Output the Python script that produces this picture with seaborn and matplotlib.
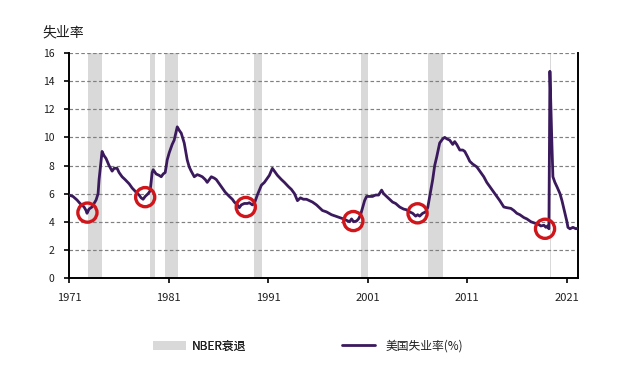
import matplotlib
matplotlib.use("Agg")
import matplotlib.pyplot as plt
import seaborn as sns
import pandas as pd
from matplotlib.patches import Patch
from matplotlib.lines import Line2D

# ---- data ----
years = [1971.00, 1971.40, 1971.80, 1972.11, 1972.51, 1972.71, 1972.81, 1973.01, 1973.31, 1973.72,
         1973.92, 1974.02, 1974.17, 1974.32, 1974.52, 1974.72, 1975.02, 1975.33, 1975.53, 1975.83,
         1976.03, 1976.33, 1976.63, 1977.04, 1977.34, 1977.74, 1978.04, 1978.24, 1978.44, 1978.65,
         1978.95, 1979.15, 1979.35, 1979.45, 1979.75, 1980.05, 1980.26, 1980.46, 1980.66, 1980.86,
         1981.06, 1981.36, 1981.56, 1981.87, 1982.07, 1982.27, 1982.57, 1982.87, 1983.07, 1983.27,
         1983.58, 1983.88, 1984.08, 1984.38, 1984.68, 1984.88, 1985.08, 1985.29, 1985.59, 1985.79,
         1986.09, 1986.39, 1986.69, 1987.10, 1987.40, 1987.60, 1987.90, 1988.10, 1988.30, 1988.61,
         1988.91, 1989.11, 1989.41, 1989.61, 1989.91, 1990.32, 1990.62, 1990.82, 1991.12, 1991.42,
         1991.62, 1991.93, 1992.33, 1992.63, 1993.03, 1993.33, 1993.64, 1993.94, 1994.24, 1994.54,
         1994.84, 1995.14, 1995.45, 1995.85, 1996.15, 1996.45, 1996.86, 1997.36, 1997.76, 1998.16,
         1998.57, 1998.87, 1999.17, 1999.37, 1999.57, 1999.87, 2000.07, 2000.28, 2000.48, 2000.68,
         2000.88, 2001.18, 2001.48, 2001.78, 2002.09, 2002.39, 2002.59, 2002.89, 2003.19, 2003.49,
         2003.80, 2004.20, 2004.60, 2004.90, 2005.21, 2005.51, 2005.81, 2006.01, 2006.21, 2006.51,
         2006.81, 2007.02, 2007.22, 2007.52, 2007.72, 2007.92, 2008.22, 2008.53, 2008.73, 2008.93,
         2009.23, 2009.43, 2009.53, 2009.73, 2009.93, 2010.24, 2010.54, 2010.74, 2011.04, 2011.24,
         2011.54, 2011.95, 2012.25, 2012.65, 2012.95, 2013.25, 2013.66, 2013.96, 2014.26, 2014.66,
         2014.96, 2015.37, 2015.67, 2015.97, 2016.27, 2016.67, 2016.98, 2017.38, 2017.78, 2018.08,
         2018.38, 2018.69, 2018.89, 2019.04, 2019.19, 2019.29, 2019.39, 2019.49, 2019.59, 2019.79,
         2019.99, 2020.30, 2020.50, 2020.80, 2021.00, 2021.10, 2021.30, 2021.60, 2021.91, 2022.11]
unemployment = [5.9, 5.8, 5.55, 5.3, 5.05, 4.8, 4.6, 4.9, 5.05, 5.55,
                6.0, 7.0, 8.0, 9.0, 8.7, 8.5, 8.0, 7.6, 7.8, 7.8,
                7.5, 7.2, 7.0, 6.7, 6.4, 6.1, 5.9, 5.7, 5.6, 5.8,
                6.0, 6.2, 7.5, 7.7, 7.4, 7.3, 7.2, 7.4, 7.5, 8.4,
                8.9, 9.5, 9.8, 10.75, 10.5, 10.3, 9.6, 8.4, 7.9, 7.6,
                7.2, 7.35, 7.3, 7.2, 7.0, 6.8, 7.0, 7.2, 7.1, 7.0,
                6.7, 6.4, 6.1, 5.8, 5.6, 5.4, 5.2, 5.0, 5.2, 5.3,
                5.3, 5.35, 5.2, 5.3, 5.9, 6.6, 6.8, 7.0, 7.3, 7.8,
                7.6, 7.3, 7.0, 6.8, 6.5, 6.3, 6.0, 5.5, 5.7, 5.6,
                5.6, 5.5, 5.4, 5.2, 5.0, 4.8, 4.7, 4.5, 4.4, 4.3,
                4.2, 4.1, 4.0, 4.2, 4.0, 4.05, 4.2, 4.5, 5.0, 5.5,
                5.8, 5.8, 5.8, 5.9, 5.9, 6.25, 6.0, 5.8, 5.6, 5.4,
                5.3, 5.05, 4.9, 4.85, 4.7, 4.6, 4.4, 4.5, 4.4, 4.6,
                4.7, 5.0, 5.8, 7.0, 8.0, 8.6, 9.6, 9.9, 10.0, 9.9,
                9.8, 9.6, 9.5, 9.7, 9.5, 9.1, 9.1, 9.0, 8.6, 8.3,
                8.1, 7.9, 7.6, 7.2, 6.8, 6.5, 6.1, 5.8, 5.5, 5.05,
                5.0, 4.95, 4.8, 4.6, 4.5, 4.3, 4.2, 4.0, 3.9, 3.85,
                3.7, 3.75, 3.6, 3.7, 3.5, 14.7, 12.0, 9.5, 7.2, 6.8,
                6.5, 6.0, 5.5, 4.6, 4.0, 3.6, 3.5, 3.6, 3.5, 3.55]

recession_start = [1972.93, 1979.09, 1980.60, 1989.57, 2000.30, 2007.06, 2019.25]
recession_end = [1974.29, 1979.63, 1981.95, 1990.35, 2000.99, 2008.57, 2019.44]

circle_x = [1972.85, 1978.65, 1988.75, 1999.55, 2006.0, 2018.8]
circle_y = [4.65, 5.75, 5.05, 4.05, 4.6, 3.5]

xtick_values = [1971, 1981, 1991, 2001, 2011, 2021]
ytick_values = [0, 2, 4, 6, 8, 10, 12, 14, 16]

title_text = "失业率"
legend_recession = "NBER衰退"
legend_line = "美国失业率(%)"

# ---- style ----
sns.set_theme(style="white")
plt.rcParams["font.family"] = ["Noto Sans CJK SC", "DejaVu Sans"]

line_color = "#3a1a5c"
band_color = "#d9d9d9"
circle_color = "#d0161b"
text_color = "#1e1e1e"

fig = plt.figure(figsize=(6.4, 3.9), dpi=100)
ax = fig.add_axes([69/640, 1 - 278/390, (578 - 69)/640, (278 - 53)/390])

for s, e in zip(recession_start, recession_end):
    ax.axvspan(s, e, color=band_color, lw=0, zorder=1)

for y in ytick_values[1:]:
    ax.axhline(y, color="#808080", lw=0.85, ls=(0, (3, 2)), zorder=2)

df = pd.DataFrame({"year": years, "rate": unemployment})
sns.lineplot(data=df, x="year", y="rate", ax=ax, color=line_color, lw=2.0,
             zorder=3, legend=False)

ax.scatter(circle_x, circle_y, s=190, facecolors="none", edgecolors=circle_color,
           linewidths=2.4, zorder=4)

ax.set_xlim(1971, 2022.11)
ax.set_ylim(0, 16)
ax.set_xticks(xtick_values)
ax.set_yticks(ytick_values)
ax.set_xticklabels([str(v) for v in xtick_values], fontsize=8)
ax.set_yticklabels([str(v) for v in ytick_values], fontsize=7.5)
ax.set_xlabel("")
ax.set_ylabel("")

for side in ["left", "bottom", "right"]:
    ax.spines[side].set_visible(True)
    ax.spines[side].set_color("black")
    ax.spines[side].set_linewidth(1.4)
ax.spines["top"].set_visible(False)

ax.tick_params(axis="y", which="major", direction="out", length=3.5, width=1.2,
               color="black", pad=7, left=True, labelcolor=text_color)
ax.tick_params(axis="x", which="major", direction="out", length=3.5, width=1.2,
               color="black", pad=7, bottom=True, labelcolor=text_color)

fig.text(42/640, 1 - 32/390, title_text, fontsize=10, va="center", ha="left",
         color=text_color)

h1 = Patch(facecolor=band_color, edgecolor="none")
h2 = Line2D([0], [0], color=line_color, lw=2.0)
leg1 = fig.legend([h1], [legend_recession], loc="center left",
                  bbox_to_anchor=(153/640, 1 - 346/390), frameon=False,
                  fontsize=8.5, handlelength=2.8, handletextpad=0.5,
                  borderpad=0, borderaxespad=0, handleheight=0.7,
                  labelcolor=text_color)
leg2 = fig.legend([h2], [legend_line], loc="center left",
                  bbox_to_anchor=(342/640, 1 - 346/390), frameon=False,
                  fontsize=8.5, handlelength=2.8, handletextpad=0.9,
                  borderpad=0, borderaxespad=0, labelcolor=text_color)
fig.add_artist(leg1)

fig.savefig("out.png", dpi=100, facecolor="white")
